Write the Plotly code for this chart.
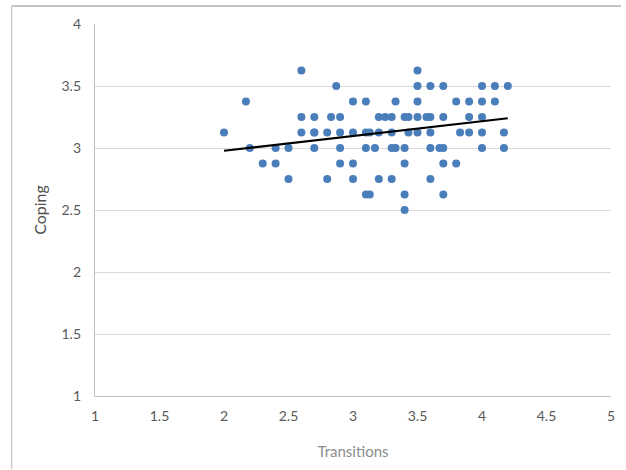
import plotly.graph_objects as go

transitions = [2.0, 2.17, 2.2, 2.3, 2.4, 2.4, 2.5, 2.5, 2.6, 2.6, 2.6, 2.7, 2.7, 2.7, 2.7,
               2.8, 2.8, 2.83, 2.87, 2.9, 2.9, 2.9, 2.9, 3.0, 3.0, 3.0, 3.0,
               3.1, 3.1, 3.13, 3.1, 3.1, 3.13, 3.17, 3.2, 3.2, 3.2, 3.25,
               3.3, 3.3, 3.3, 3.33, 3.3, 3.33, 3.4, 3.43, 3.43, 3.4, 3.4, 3.4, 3.4,
               3.5, 3.5, 3.5, 3.5, 3.5, 3.57, 3.6, 3.6, 3.6, 3.6, 3.6,
               3.67, 3.7, 3.7, 3.7, 3.7, 3.7, 3.8, 3.8, 3.83, 3.9, 3.9, 3.9,
               4.0, 4.0, 4.0, 4.0, 4.0, 4.1, 4.1, 4.17, 4.17, 4.2]
coping = [3.125, 3.375, 3.0, 2.875, 3.0, 2.875, 3.0, 2.75, 3.625, 3.25, 3.125, 3.25, 3.125, 3.125, 3.0,
          3.125, 2.75, 3.25, 3.5, 3.25, 3.125, 3.0, 2.875, 3.375, 3.125, 2.875, 2.75,
          3.375, 3.125, 3.125, 3.0, 2.625, 2.625, 3.0, 3.25, 3.125, 2.75, 3.25,
          3.25, 3.125, 3.0, 3.0, 2.75, 3.375, 3.25, 3.25, 3.125, 3.0, 2.875, 2.625, 2.5,
          3.625, 3.5, 3.375, 3.25, 3.125, 3.25, 3.25, 3.5, 3.125, 3.0, 2.75,
          3.0, 3.0, 3.5, 3.25, 2.875, 2.625, 3.375, 2.875, 3.125, 3.375, 3.25, 3.125,
          3.5, 3.375, 3.25, 3.125, 3.0, 3.5, 3.375, 3.125, 3.0, 3.5]

# linear trendline
trend_x = [2.0, 4.2]
trend_slope = 0.119
trend_intercept = 2.74

x_ticks = [1, 1.5, 2, 2.5, 3, 3.5, 4, 4.5, 5]
y_ticks = [1, 1.5, 2, 2.5, 3, 3.5, 4]

trend_y = [trend_slope * v + trend_intercept for v in trend_x]

W, H = 626, 470
L, R, T, B = 95, 11, 24, 74
pw, ph = W - L - R, H - T - B

fig = go.Figure()
fig.add_trace(go.Scatter(x=transitions, y=coping, mode="markers",
                         marker=dict(color="#4A7EBB", size=8, line=dict(width=0)),
                         showlegend=False, cliponaxis=False))
fig.add_trace(go.Scatter(x=trend_x, y=trend_y, mode="lines",
                         line=dict(color="black", width=2.2), showlegend=False))

font = "Lato, 'Open Sans', sans-serif"
bx0 = (11 - L) / pw
bx1 = (W - 1 - L) / pw
by_top = (H - B - 6) / ph
by_bot = (H - B - (H - 1)) / ph
border = dict(color="#C4C4C4", width=2)
fig.update_layout(
    width=W, height=H,
    margin=dict(l=L, r=R, t=T, b=B, pad=0),
    paper_bgcolor="white", plot_bgcolor="white",
    font=dict(family=font, color="#595959", size=14),
    xaxis=dict(range=[1, 5], tickvals=x_ticks, ticktext=[f"{v:g}" for v in x_ticks],
               showgrid=False, zeroline=False, showline=True, linecolor="#BFBFBF",
               linewidth=1.3, ticks="", ticklen=0, ticklabelstandoff=7,
               tickfont=dict(size=14, color="#595959"),
               title=dict(text="Transitions", font=dict(size=15, color="#8C8C8C"), standoff=23)),
    yaxis=dict(range=[1, 4], tickvals=y_ticks, ticktext=[f"{v:g}" for v in y_ticks],
               showgrid=True, gridcolor="#D9D9D9", gridwidth=1.3, zeroline=False,
               showline=True, linecolor="#BFBFBF", linewidth=1.3, ticks="",
               ticklabelstandoff=10,
               tickfont=dict(size=14, color="#595959"),
               title=dict(text="Coping", font=dict(size=16, color="#505050"), standoff=10)),
    shapes=[
        dict(type="line", xref="paper", yref="paper", x0=bx0, x1=bx0, y0=by_bot, y1=by_top,
             line=dict(color="#D0D0D0", width=1.5), layer="above"),
        dict(type="line", xref="paper", yref="paper", x0=bx0, x1=bx1, y0=by_top, y1=by_top,
             line=border, layer="above"),
    ],
)

fig.write_html("out.html", config={"displayModeBar": False})
with open("out.html") as f:
    html = f.read()
html = html.replace("<head>", "<head><style>html,body{margin:0;padding:0;overflow:hidden}</style>", 1)
with open("out.html", "w") as f:
    f.write(html)
